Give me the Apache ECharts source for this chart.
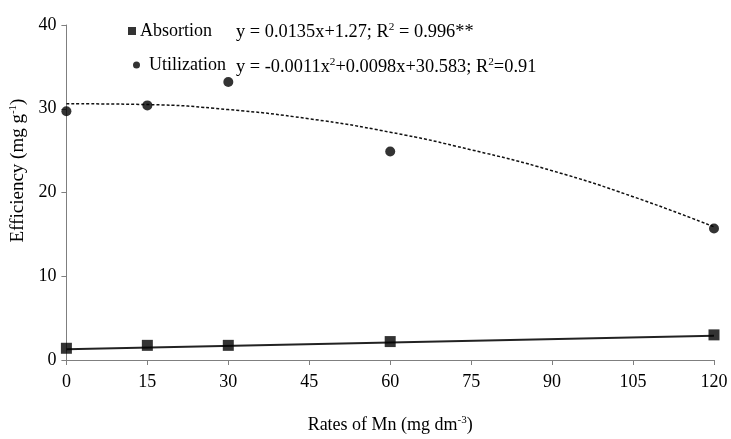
<!DOCTYPE html>
<html><head><meta charset="utf-8">
<script src="https://cdn.jsdelivr.net/npm/echarts@6/dist/echarts.min.js"></script>
<style>html,body{margin:0;padding:0;background:#fff}#c{width:731px;height:439px}</style>
</head><body><div id="c"></div>
<script>
var rates = [0, 15, 30, 60, 120];
var absorption = [1.4, 1.75, 1.75, 2.2, 3.0];
var utilization = [29.7, 30.4, 33.2, 24.9, 15.7];
var absFitX = [0, 120];
var absFitY = [1.27, 2.89];
var utilFitX = [0, 15, 30, 45, 60, 75, 90, 105, 120];
var utilFitY = [30.6, 30.5, 29.9, 28.8, 27.2, 25.1, 22.6, 19.5, 15.9];
var xTicks = [0, 15, 30, 45, 60, 75, 90, 105, 120];
var yTicks = [0, 10, 20, 30, 40];

function pairs(xs, ys){ return xs.map(function(x,i){return [x, ys[i]];}); }
var FONT = 'Liberation Serif';
var supStyle = {fontFamily: FONT, fontSize: 11, verticalAlign: 'top', padding:[0,0,9,0], color:'#000'};
var chart = echarts.init(document.getElementById('c'));
chart.setOption({
  animation: false,
  textStyle: {fontFamily: FONT},
  grid: {left: 61, right: 17, top: 25, bottom: 79},
  legend: [
    {data: [{name:'Absortion', icon:'rect'}], left: 123, top: 17, itemWidth: 8, itemHeight: 8,
     textStyle: {fontFamily: FONT, fontSize: 18, color: '#000', padding:[0,0,0,-1]}},
    {data: [{name:'Utilization', icon:'circle'}], left: 128, top: 51, itemWidth: 7, itemHeight: 7,
     textStyle: {fontFamily: FONT, fontSize: 18, color: '#000', padding:[0,0,0,4]}}
  ],
  xAxis: {
    type: 'value', min: 0, max: 120, interval: 15,
    name: 'Rates of Mn (mg dm{sup|-3})', nameLocation: 'middle', nameGap: 55,
    nameTextStyle: {fontFamily: FONT, fontSize: 18, color: '#000', rich: {sup: supStyle}},
    axisLine: {lineStyle: {color: '#7f7f7f', width: 1}},
    axisTick: {show: true, length: 5, lineStyle: {color: '#7f7f7f'}},
    axisLabel: {fontFamily: FONT, fontSize: 18, color: '#000', margin: 13},
    splitLine: {show: false}
  },
  yAxis: {
    type: 'value', min: 0, max: 40, interval: 10,
    name: 'Efficiency (mg g{sup|-1})', nameLocation: 'middle', nameGap: 38,
    nameTextStyle: {fontFamily: FONT, fontSize: 19, color: '#000', padding:[0,0,0,44], rich: {sup: supStyle}},
    axisLine: {show: true, lineStyle: {color: '#7f7f7f', width: 1}},
    axisTick: {show: true, length: 5, lineStyle: {color: '#7f7f7f'}},
    axisLabel: {fontFamily: FONT, fontSize: 18, color: '#000', margin: 10},
    splitLine: {show: false}
  },
  series: [
    {name: 'AbsFit', type: 'line', data: pairs(absFitX, absFitY), symbol: 'none',
     lineStyle: {color: '#222', width: 2}, silent: true, z: 1},
    {name: 'UtilFit', type: 'line', data: pairs(utilFitX, utilFitY), symbol: 'none', smooth: true,
     lineStyle: {color: '#111', width: 1.5, type: [3, 2]}, silent: true, z: 1},
    {name: 'Absortion', type: 'scatter', data: pairs(rates, absorption), symbol: 'rect', symbolSize: 11,
     itemStyle: {color: '#000'}, z: 3},
    {name: 'Utilization', type: 'scatter', data: pairs(rates, utilization), symbol: 'circle', symbolSize: 10,
     itemStyle: {color: '#000'}, z: 3}
  ],
  graphic: [
    {type: 'text', x: 236, y: 22, scaleX: 1.02, scaleY: 1, originX: 0, originY: 0,
     style: {text: 'y = 0.0135x+1.27; R{s|2} = 0.996**', fontSize: 18, fontFamily: FONT, fill: '#000',
      verticalAlign: 'top', rich: {s: supStyle}}},
    {type: 'text', x: 236, y: 57, scaleX: 1.02, scaleY: 1, originX: 0, originY: 0,
     style: {text: 'y = -0.0011x{s|2}+0.0098x+30.583; R{s|2}=0.91', fontSize: 18, fontFamily: FONT, fill: '#000',
      verticalAlign: 'top', rich: {s: supStyle}}}
  ]
});
</script></body></html>
